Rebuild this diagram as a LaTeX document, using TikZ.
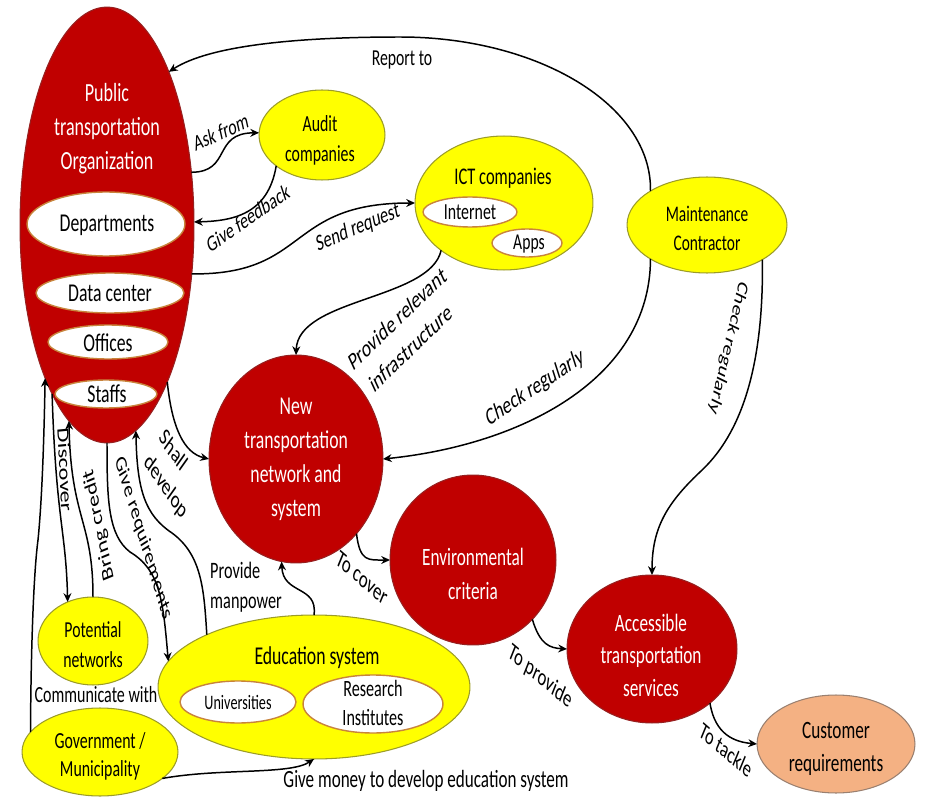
\documentclass[tikz,border=0pt]{standalone}
\usepackage{fontspec}
\setmainfont{Carlito}
\usetikzlibrary{shapes.geometric,arrows.meta}
\definecolor{cred}{HTML}{C00000}
\definecolor{credl}{HTML}{962020}
\definecolor{cyel}{HTML}{FFFF00}
\definecolor{cyell}{HTML}{9C9C28}
\definecolor{cwhl}{HTML}{C8843C}
\definecolor{cora}{HTML}{F4B183}
\definecolor{coral}{HTML}{9A8070}
% #1 name, #2 position, #3 angle before squeeze, #4 style, #5 text
\newcommand\putlabel[5]{\begin{scope}[shift={(#2)}, xscale=0.69]
  \node[transform shape, rotate=#3, #4] (#1) at (0,0) {#5};\end{scope}}
\begin{document}
\begin{tikzpicture}[x=0.02cm,y=-0.02cm,
  bub/.style={ellipse, inner sep=0pt, outer sep=0pt},
  sz/.style 2 args={minimum width=#1*0.04cm, minimum height=#2*0.04cm},
  fs/.style 2 args={font=\fontsize{#1}{#2}\selectfont},
  redb/.style={bub, fill=cred, draw=credl, line width=0.6pt},
  yelb/.style={bub, fill=cyel, draw=cyell, line width=0.6pt},
  whb/.style={bub, fill=white, draw=cwhl, line width=0.8pt},
  orb/.style={bub, fill=cora, draw=coral, line width=0.6pt},
  wtxt/.style={text=white, fs={14.6}{19.3}, align=center, inner sep=0pt},
  btxt/.style={text=black, fs={14.6}{19}, align=center, inner sep=0pt},
  ytxt/.style={text=black, fs={13.1}{17}, align=center, inner sep=0pt},
  lab/.style={fs={13.4}{17}, align=center, inner sep=0pt},
  con/.style={draw, line width=0.85pt, -{Stealth[length=5pt,width=4.5pt]}}]
\useasboundingbox (0,0) rectangle (937,797);

% ---------- shapes ----------
\node[redb, sz={87}{218}] (pto) at (107,225) {};
\node[whb, sz={79}{32}] (dep) at (106,224) {};
\node[whb, sz={74}{20}] (dc) at (110,293) {};
\node[whb, sz={60}{17}] (off) at (108,342) {};
\node[whb, sz={51}{14}] (stf) at (106,394) {};
\node[yelb, sz={63}{45}] (aud) at (322,135) {};
\node[yelb, sz={89}{67}] (ict) at (504,203) {};
\node[whb, sz={47}{15}] (inet) at (470,212) {};
\node[whb, sz={35}{14}] (apps) at (527,243) {};
\node[yelb, sz={80}{48}] (mc) at (707,225) {};
\node[redb, sz={87}{104}] (new) at (296,459) {};
\node[redb, sz={83}{85}] (env) at (473,560) {};
\node[redb, sz={85}{74}] (acc) at (652,649) {};
\node[orb, sz={79}{49}] (cus) at (836,744) {};
\node[yelb, sz={55}{44}] (pot) at (93,641) {};
\node[yelb, sz={156}{72}] (edu) at (314,687) {};
\node[whb, sz={58}{21}] (uni) at (238,702) {};
\node[whb, sz={70}{29}] (res) at (373,704) {};
\node[yelb, sz={78}{44}] (gov) at (100,752) {};

% ---------- node texts ----------
\putlabel{ptoT}{107,129}{0}{wtxt, fs={14.9}{19.3}}{Public\\transportation\\Organization}
\putlabel{depT}{107,225}{0}{btxt}{Departments}
\putlabel{dcT}{110,293}{0}{btxt}{Data center}
\putlabel{offT}{108,343}{0}{btxt}{Offices}
\putlabel{stfT}{107,394}{0}{btxt}{Staffs}
\putlabel{audT}{320,140}{0}{ytxt}{Audit\\companies}
\putlabel{ictT}{503,178}{0}{ytxt, fs={13.6}{16}}{ICT companies}
\putlabel{inetT}{470,212}{0}{ytxt}{Internet}
\putlabel{appsT}{529,244}{0}{ytxt, fs={12.9}{16}}{Apps}
\putlabel{mcT}{707,228}{0}{ytxt, fs={12.7}{16.5}}{Maintenance\\Contractor}
\putlabel{newT}{296,459}{0}{wtxt}{New\\transportation\\network and\\system}
\putlabel{envT}{473,574}{0}{wtxt, fs={14.2}{19}}{Environmental\\criteria}
\putlabel{accT}{651,655}{0}{wtxt, fs={14.2}{18.5}}{Accessible\\transportation\\services}
\putlabel{cusT}{836,749}{0}{btxt, fs={14.2}{18.7}}{Customer\\requirements}
\putlabel{potT}{93,645}{0}{ytxt, fs={13.0}{17}}{Potential\\networks}
\putlabel{eduT}{317,658}{0}{btxt}{Education system}
\putlabel{uniT}{238,702}{0}{btxt, fs={11.7}{14}}{Universities}
\putlabel{resT}{373,703}{0}{ytxt, fs={13.3}{17}}{Research\\Institutes}
\putlabel{govT}{100,756}{0}{ytxt, fs={13.1}{16}}{Government /\\Municipality}

% ---------- connectors ----------
\draw[con] (mc.149) .. controls (652,105) and (538,37) .. (400,37) .. controls (300,37) and (210,45) .. (pto.68);
\draw[con] (pto.32) .. controls (232,172) and (212,133) .. (aud.178);
\draw[con] (aud.214) .. controls (268,215) and (232,221) .. (pto.2);
\draw[con] (pto.330) .. controls (310,275) and (285,203) .. (ict.west);
\draw[con] (ict.217) .. controls (430,300) and (298,298) .. (new.north);
\draw[con] (mc.211) .. controls (650,380) and (520,445) .. (new.east);
\draw[con] (mc.328) .. controls (764,380) and (735,440) .. (700,472) .. controls (665,505) and (652,530) .. (acc.north);
\draw[con] (pto.291.5) .. controls (172,428) and (184,453) .. (new.west);
\draw[con] (pto.252.7) .. controls (56,520) and (66,530) .. (pot.123.7);
\draw[con] (pot.north) .. controls (93,520) and (71,520) .. (pto.259.9);
\draw[con] (pto.south) .. controls (107,500) and (108,535) .. (130,552) .. controls (160,570) and (163,600) .. (edu.170);
\draw[con] (edu.154) .. controls (204,590) and (202,555) .. (172,533) .. controls (145,515) and (137,490) .. (pto.278.3);
\draw[con] (edu.north) .. controls (318,585) and (283,595) .. (new.262.8);
\draw[con] (new.309.5) .. controls (360,562) and (368,560) .. (env.west);
\draw[con] (env.315) .. controls (540,645) and (550,648) .. (acc.west);
\draw[con] (acc.317) .. controls (715,735) and (735,742) .. (cus.west);
\draw[con] (gov.164.8) .. controls (31,640) and (34,570) .. (38,540) .. controls (42,500) and (44,440) .. (pto.248.8);
\draw[con] (gov.337.6) .. controls (220,768) and (290,775) .. (edu.south);

% ---------- connector labels ----------
\putlabel{l1}{402,60}{0}{lab, fs={13.0}{16}}{Report to}
\putlabel{l2}{221,132}{17.8}{lab, fs={12.9}{16}}{Ask from}
\putlabel{l3}{248,218}{25.8}{lab, fs={13.0}{16}}{Give feedback}
\putlabel{l4}{358,228}{16.3}{lab, fs={13.3}{16}}{Send request}
\putlabel{l5}{404,333}{33.7}{lab, fs={14.2}{20}}{Provide relevant\\infrastructure}
\putlabel{l6}{535,388}{24.9}{lab, fs={14.0}{16}}{Check regularly}
\putlabel{l7}{728,348}{-108.5}{lab, fs={12.6}{16}}{Check regularly}
\putlabel{l8}{65,470}{-86.1}{lab, fs={13.8}{16}}{Discover}
\putlabel{l9}{99,525}{105.7}{lab, fs={13.8}{16}}{Bring credit}
\putlabel{l10}{143,538}{-66.1}{lab, fs={13.3}{16}}{Give requirements}
\putlabel{l11a}{174,450}{-45.7}{lab, fs={14.0}{16}}{Shall}
\putlabel{l11b}{166,487}{-45.7}{lab, fs={14.0}{16}}{develop}
\putlabel{l12}{210,587}{0}{lab, fs={13.4}{17}, align=left, anchor=west}{Provide\\manpower}
\putlabel{l13}{362,578}{-31}{lab, fs={14.0}{16}}{To cover}
\putlabel{l14}{540,677}{-30.1}{lab, fs={13.9}{16}}{To provide}
\putlabel{l15}{726,750}{-31}{lab, fs={13.6}{16}}{To tackle}
\putlabel{l16}{96,695}{0}{lab, fs={13.2}{16}}{Communicate with}
\putlabel{l17}{426,781}{0}{lab, fs={14.1}{16}}{Give money to develop education system}
\end{tikzpicture}
\end{document}
